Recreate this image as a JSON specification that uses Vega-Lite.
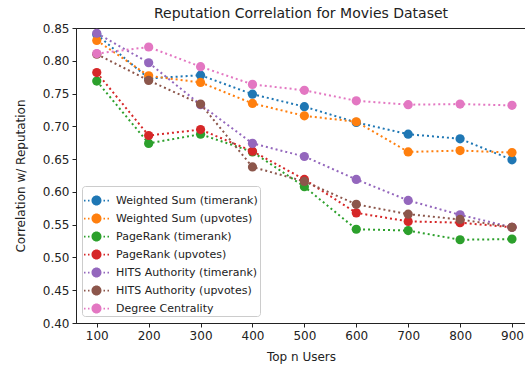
{
  "$schema": "https://vega.github.io/schema/vega-lite/v6.json",
  "autosize": "none",
  "width": 450,
  "height": 295,
  "padding": {"left": 76, "top": 28, "right": 0, "bottom": 45},
  "background": "white",
  "config": {
    "font": "DejaVu Sans",
    "view": {"stroke": "#222", "strokeWidth": 1},
    "axis": {"grid": false, "domainColor": "#222", "tickColor": "#222", "labelColor": "#222", "titleColor": "#222", "labelFontSize": 12, "titleFontSize": 12, "titleFontWeight": "normal", "tickSize": 4, "labelPadding": 3}
  },
  "title": {"text": "Reputation Correlation for Movies Dataset", "fontSize": 14, "fontWeight": "normal", "color": "#222", "offset": 1, "anchor": "middle"},
  "data": {"values": [
    {"s": "Weighted Sum (timerank)", "n": 100, "v": 0.840},
    {"s": "Weighted Sum (timerank)", "n": 200, "v": 0.773},
    {"s": "Weighted Sum (timerank)", "n": 300, "v": 0.778},
    {"s": "Weighted Sum (timerank)", "n": 400, "v": 0.749},
    {"s": "Weighted Sum (timerank)", "n": 500, "v": 0.730},
    {"s": "Weighted Sum (timerank)", "n": 600, "v": 0.706},
    {"s": "Weighted Sum (timerank)", "n": 700, "v": 0.688},
    {"s": "Weighted Sum (timerank)", "n": 800, "v": 0.681},
    {"s": "Weighted Sum (timerank)", "n": 900, "v": 0.649},
    {"s": "Weighted Sum (upvotes)", "n": 100, "v": 0.831},
    {"s": "Weighted Sum (upvotes)", "n": 200, "v": 0.777},
    {"s": "Weighted Sum (upvotes)", "n": 300, "v": 0.767},
    {"s": "Weighted Sum (upvotes)", "n": 400, "v": 0.735},
    {"s": "Weighted Sum (upvotes)", "n": 500, "v": 0.716},
    {"s": "Weighted Sum (upvotes)", "n": 600, "v": 0.707},
    {"s": "Weighted Sum (upvotes)", "n": 700, "v": 0.661},
    {"s": "Weighted Sum (upvotes)", "n": 800, "v": 0.663},
    {"s": "Weighted Sum (upvotes)", "n": 900, "v": 0.660},
    {"s": "PageRank (timerank)", "n": 100, "v": 0.769},
    {"s": "PageRank (timerank)", "n": 200, "v": 0.674},
    {"s": "PageRank (timerank)", "n": 300, "v": 0.688},
    {"s": "PageRank (timerank)", "n": 400, "v": 0.661},
    {"s": "PageRank (timerank)", "n": 500, "v": 0.608},
    {"s": "PageRank (timerank)", "n": 600, "v": 0.543},
    {"s": "PageRank (timerank)", "n": 700, "v": 0.541},
    {"s": "PageRank (timerank)", "n": 800, "v": 0.527},
    {"s": "PageRank (timerank)", "n": 900, "v": 0.528},
    {"s": "PageRank (upvotes)", "n": 100, "v": 0.782},
    {"s": "PageRank (upvotes)", "n": 200, "v": 0.686},
    {"s": "PageRank (upvotes)", "n": 300, "v": 0.695},
    {"s": "PageRank (upvotes)", "n": 400, "v": 0.662},
    {"s": "PageRank (upvotes)", "n": 500, "v": 0.619},
    {"s": "PageRank (upvotes)", "n": 600, "v": 0.568},
    {"s": "PageRank (upvotes)", "n": 700, "v": 0.555},
    {"s": "PageRank (upvotes)", "n": 800, "v": 0.553},
    {"s": "PageRank (upvotes)", "n": 900, "v": 0.546},
    {"s": "HITS Authority (timerank)", "n": 100, "v": 0.842},
    {"s": "HITS Authority (timerank)", "n": 200, "v": 0.797},
    {"s": "HITS Authority (timerank)", "n": 300, "v": 0.733},
    {"s": "HITS Authority (timerank)", "n": 400, "v": 0.674},
    {"s": "HITS Authority (timerank)", "n": 500, "v": 0.654},
    {"s": "HITS Authority (timerank)", "n": 600, "v": 0.619},
    {"s": "HITS Authority (timerank)", "n": 700, "v": 0.587},
    {"s": "HITS Authority (timerank)", "n": 800, "v": 0.565},
    {"s": "HITS Authority (timerank)", "n": 900, "v": 0.546},
    {"s": "HITS Authority (upvotes)", "n": 100, "v": 0.810},
    {"s": "HITS Authority (upvotes)", "n": 200, "v": 0.770},
    {"s": "HITS Authority (upvotes)", "n": 300, "v": 0.734},
    {"s": "HITS Authority (upvotes)", "n": 400, "v": 0.638},
    {"s": "HITS Authority (upvotes)", "n": 500, "v": 0.616},
    {"s": "HITS Authority (upvotes)", "n": 600, "v": 0.581},
    {"s": "HITS Authority (upvotes)", "n": 700, "v": 0.566},
    {"s": "HITS Authority (upvotes)", "n": 800, "v": 0.558},
    {"s": "HITS Authority (upvotes)", "n": 900, "v": 0.546},
    {"s": "Degree Centrality", "n": 100, "v": 0.811},
    {"s": "Degree Centrality", "n": 200, "v": 0.821},
    {"s": "Degree Centrality", "n": 300, "v": 0.791},
    {"s": "Degree Centrality", "n": 400, "v": 0.764},
    {"s": "Degree Centrality", "n": 500, "v": 0.755},
    {"s": "Degree Centrality", "n": 600, "v": 0.739},
    {"s": "Degree Centrality", "n": 700, "v": 0.733},
    {"s": "Degree Centrality", "n": 800, "v": 0.734},
    {"s": "Degree Centrality", "n": 900, "v": 0.732}
  ]},
  "encoding": {
    "x": {"field": "n", "type": "quantitative", "title": "Top n Users",
      "scale": {"domain": [60, 927], "nice": false, "zero": false},
      "axis": {"values": [100, 200, 300, 400, 500, 600, 700, 800, 900], "titlePadding": 10}},
    "y": {"field": "v", "type": "quantitative", "title": "Correlation w/ Reputation",
      "scale": {"domain": [0.40, 0.85], "nice": false, "zero": false},
      "axis": {"values": [0.40, 0.45, 0.50, 0.55, 0.60, 0.65, 0.70, 0.75, 0.80, 0.85], "format": ".2f", "titlePadding": 15}},
    "color": {"field": "s", "type": "nominal",
      "scale": {"domain": ["Weighted Sum (timerank)", "Weighted Sum (upvotes)", "PageRank (timerank)", "PageRank (upvotes)", "HITS Authority (timerank)", "HITS Authority (upvotes)", "Degree Centrality"],
        "range": ["#1f77b4", "#ff7f0e", "#2ca02c", "#d62728", "#9467bd", "#8c564b", "#e377c2"]},
      "legend": {"title": null, "orient": "none", "legendX": 6, "legendY": 158,
        "symbolType": "M-0.4,0 A0.4,0.4 0 1,1 0.4,0 A0.4,0.4 0 1,1 -0.4,0 Z M-1,-0.07 L-0.88,-0.07 L-0.88,0.07 L-1,0.07 Z M-0.68,-0.07 L-0.56,-0.07 L-0.56,0.07 L-0.68,0.07 Z M0.56,-0.07 L0.68,-0.07 L0.68,0.07 L0.56,0.07 Z M0.88,-0.07 L1,-0.07 L1,0.07 L0.88,0.07 Z",
        "symbolSize": 625, "symbolStrokeWidth": 0, "symbolOpacity": 1, "labelFontSize": 11, "labelColor": "#222", "rowPadding": -8.8, "padding": 2, "fillColor": "white", "strokeColor": "#ccc", "cornerRadius": 3, "labelOffset": 7}}
  },
  "layer": [
    {"mark": {"type": "line", "strokeDash": [2, 3], "strokeWidth": 2}},
    {"mark": {"type": "circle", "size": 85, "opacity": 1}}
  ]
}
